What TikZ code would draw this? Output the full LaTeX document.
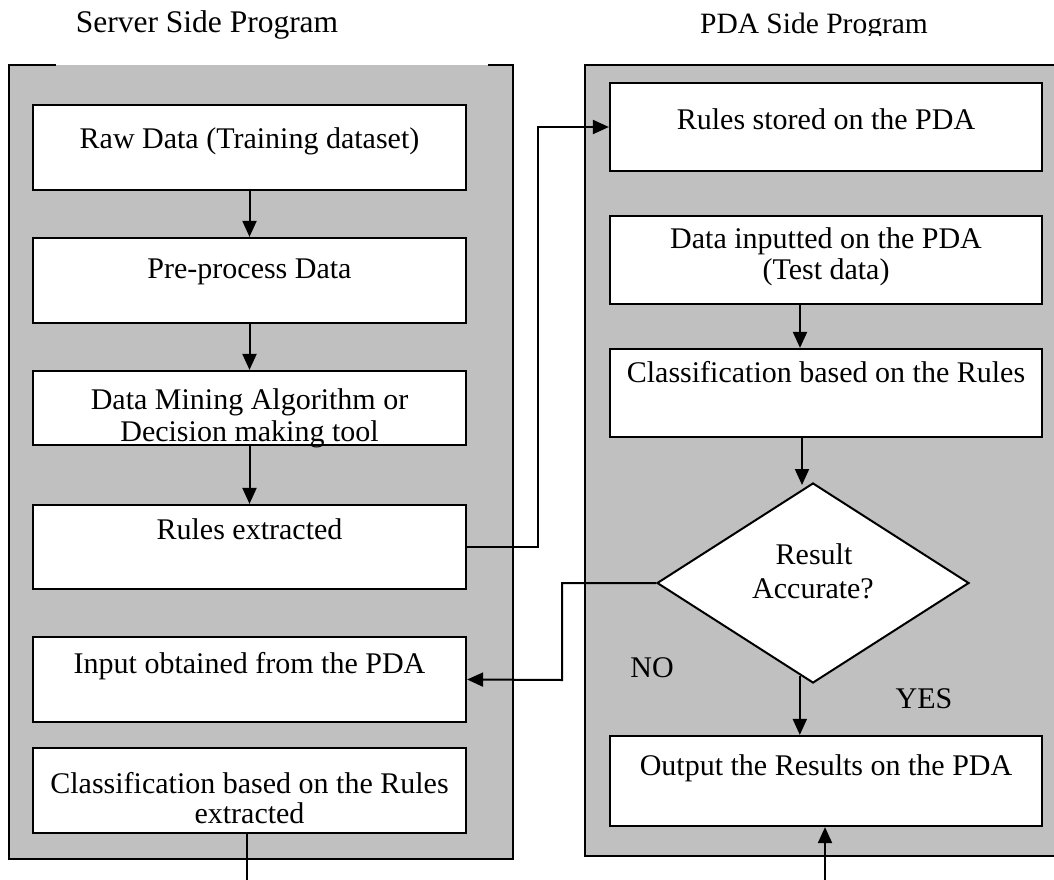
\documentclass[tikz,border=0pt]{standalone}
\usepackage{fontspec}
\setmainfont{Liberation Serif}
\usetikzlibrary{arrows.meta,shapes.geometric,calc}
\definecolor{panelgray}{RGB}{192,192,192}
\begin{document}
\begin{tikzpicture}[x=1pt,y=-1pt,
  every node/.style={font=\fontsize{30}{34}\selectfont},
  panel/.style={fill=panelgray, draw=none},
  frame/.style={line width=2.2pt, line join=miter},
  stepbox/.style={draw, fill=white, line width=2.2pt, inner sep=0pt, minimum width=433pt},
  rbox/.style={stepbox, minimum width=432pt},
  decision/.style={diamond, draw, fill=white, line width=2pt, inner sep=0pt,
                   minimum width=312pt, minimum height=200pt},
  txt/.style={anchor=base, inner sep=0pt},
  flow/.style={line width=2pt, -{Triangle[length=16pt,width=14pt]}},
  plain/.style={line width=2pt},
]
\useasboundingbox (0,0) rectangle (1054,880);

% ---- panels ----
\fill[panel] (9,65) rectangle (513,859);
\draw[frame] (56,65) -- (9,65) -- (9,859) -- (513,859) -- (513,65) -- (488,65);
\fill[panel] (585,65) rectangle (1075,856);
\draw[frame] (1075,65) -- (585,65) -- (585,856) -- (1075,856);

% ---- titles ----
\node[txt, font=\fontsize{31.5}{36}\selectfont] (srvtitle) at (207,33) {Server Side Program};
\begin{scope}
  \clip (600,0) rectangle (1054,36);
  \node[txt, font=\fontsize{29.5}{34}\selectfont] (pdatitle) at (814,34) {PDA Side Program};
\end{scope}

% ---- server side boxes ----
\node[stepbox, minimum height=85pt] (b1) at (249.5,147.5) {};
\node[stepbox, minimum height=85pt] (b2) at (249.5,280.5) {};
\node[stepbox, minimum height=74pt] (b3) at (249.5,408) {};
\node[stepbox, minimum height=84pt] (b4) at (249.5,547) {};
\node[stepbox, minimum height=85pt] (b5) at (249.5,679.5) {};
\node[stepbox, minimum height=85pt] (b6) at (249.5,790.5) {};

\node[txt] (t1) at (249.5,148) {Raw Data (Training dataset)};
\node[txt] (t2) at (249.5,278) {Pre-process Data};
\node[txt] (t3a) at (249.5,409) {Data Mining Algorithm or};
\node[txt] (t3b) at (249.5,441) {Decision making tool};
\node[txt] (t4) at (249.5,539) {Rules extracted};
\node[txt] (t5) at (249.5,673) {Input obtained from the PDA};
\node[txt] (t6a) at (249.5,793) {Classification based on the Rules};
\node[txt] (t6b) at (249.5,823) {extracted};

% ---- PDA side boxes ----
\node[rbox, minimum height=88pt] (r1) at (826,127) {};
\node[rbox, minimum height=88pt] (r2) at (826,260) {};
\node[rbox, minimum height=88pt] (r3) at (826,393) {};
\node[rbox, minimum height=90pt] (r4) at (826,781) {};
\node[decision] (dia) at (813,583) {};

\node[txt] (u1) at (826,130) {Rules stored on the PDA};
\node[txt] (u2a) at (826,248) {Data inputted on the PDA};
\node[txt] (u2b) at (826,279) {(Test data)};
\node[txt] (u3) at (826,382) {Classification based on the Rules};
\node[txt] (d1) at (814,564) {Result};
\node[txt] (d2) at (813,598) {Accurate?};
\node[txt] (u4) at (826,775) {Output the Results on the PDA};

\node[txt] (no) at (652,677) {NO};
\node[txt] (yes) at (924,708) {YES};

% ---- connectors ----
\coordinate (yesstart) at ($(dia.west)!0.916!(dia.south)$);
\coordinate (srvout) at (247,880);
\coordinate (pdain) at (825,880);
\draw[flow] (b1.south) -- (b2.north);
\draw[flow] (b2.south) -- (b3.north);
\draw[flow] (b3.south) -- (b4.north);
\draw[flow] (b4.east) -- (538,547) -- (538,127) -- (r1.west);
\draw[flow] ([xshift=-26pt]r2.south) -- ([xshift=-26pt]r3.north);
\draw[flow] ([xshift=-24pt]r3.south) -- ([xshift=-24pt,yshift=-3pt]r3.south |- dia.north);
\draw[flow] (dia.west) -- (562,583) -- (562,680) -- (b5.east);
\draw[flow] (yesstart) -- (yesstart |- r4.north);
\draw[plain] ([xshift=-2.5pt]b6.south) -- (srvout);
\draw[flow] (pdain) -- (pdain |- r4.south);
\end{tikzpicture}
\end{document}
